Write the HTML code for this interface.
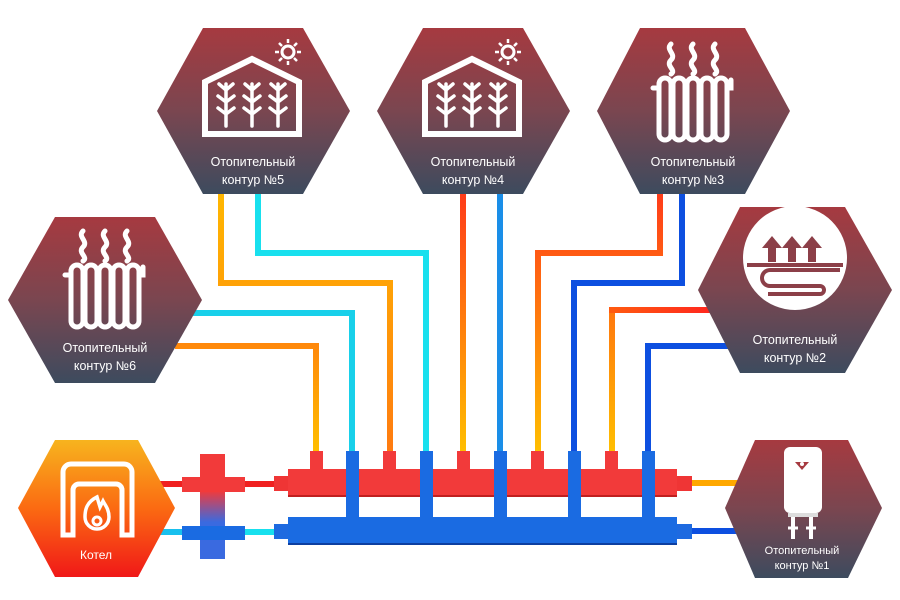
<!DOCTYPE html>
<html><head><meta charset="utf-8"><style>
html,body{margin:0;padding:0;background:#fff;}
svg{display:block;}
text{font-family:"Liberation Sans","DejaVu Sans",sans-serif;fill:#fff;}
</style></head><body>
<svg width="900" height="600" viewBox="0 0 900 600" xmlns="http://www.w3.org/2000/svg">
<defs>
<linearGradient id="hx" x1="0" y1="0" x2="0" y2="1">
<stop offset="0" stop-color="#a63a40"/><stop offset="0.5" stop-color="#7a4650"/><stop offset="1" stop-color="#3d4b5e"/>
</linearGradient>
<linearGradient id="ko" x1="0" y1="0" x2="0" y2="1">
<stop offset="0" stop-color="#f7b41e"/><stop offset="0.5" stop-color="#fb6a12"/><stop offset="1" stop-color="#f01818"/>
</linearGradient>
<linearGradient id="cross" x1="0" y1="0" x2="0" y2="1">
<stop offset="0.35" stop-color="#f23a3a"/><stop offset="0.65" stop-color="#3a6ae0"/>
</linearGradient>
<linearGradient id="vo" gradientUnits="userSpaceOnUse" x1="0" y1="190" x2="0" y2="455">
<stop offset="0" stop-color="#ff3a1a"/><stop offset="1" stop-color="#ffc000"/>
</linearGradient>
<linearGradient id="vo2" gradientUnits="userSpaceOnUse" x1="0" y1="190" x2="0" y2="455">
<stop offset="0" stop-color="#ffb800"/><stop offset="1" stop-color="#ff7a10"/>
</linearGradient>
<linearGradient id="hr" gradientUnits="userSpaceOnUse" x1="612" y1="0" x2="725" y2="0">
<stop offset="0" stop-color="#ff5a10"/><stop offset="1" stop-color="#ff2020"/>
</linearGradient>
<g id="rad" fill="none" stroke="#fff" stroke-width="5" stroke-linecap="round">
<path d="M-22,-52 c-6,6 6,10 0,16 c-6,6 6,10 0,14 M0,-52 c-6,6 6,10 0,16 c-6,6 6,10 0,14 M22,-52 c-6,6 6,10 0,16 c-6,6 6,10 0,14"/>
<path d="M-40,-8 h6 M34,-8 h4 v-8"/>
<path d="M-34,-12 a6,6 0 0 1 12,0 v50 a6,6 0 0 1 -12,0 z M-20,-12 a6,6 0 0 1 12,0 v50 a6,6 0 0 1 -12,0 z M-6,-12 a6,6 0 0 1 12,0 v50 a6,6 0 0 1 -12,0 z M8,-12 a6,6 0 0 1 12,0 v50 a6,6 0 0 1 -12,0 z M22,-12 a6,6 0 0 1 12,0 v50 a6,6 0 0 1 -12,0 z"/>
</g>
<g id="gh" fill="none" stroke="#fff">
<path d="M-47,-14 L0,-37 L47,-14 V38 H-47 Z" stroke-width="6"/>
<g stroke-width="3.5" stroke-linecap="round">
<path d="M-26,30 V-12 M-26,18 l-8,-6 M-26,18 l8,-6 M-26,6 l-8,-6 M-26,6 l8,-6 M-26,-6 l-7,-6 M-26,-6 l7,-6"/>
<path d="M0,30 V-12 M0,18 l-8,-6 M0,18 l8,-6 M0,6 l-8,-6 M0,6 l8,-6 M0,-6 l-7,-6 M0,-6 l7,-6"/>
<path d="M26,30 V-12 M26,18 l-8,-6 M26,18 l8,-6 M26,6 l-8,-6 M26,6 l8,-6 M26,-6 l-7,-6 M26,-6 l7,-6"/>
</g>
<circle cx="36" cy="-44" r="6" stroke-width="3"/>
<path d="M36,-57 v4 M36,-35 v4 M23,-44 h4 M45,-44 h4 M27,-53 l3,3 M42,-38 l3,3 M45,-53 l-3,3 M30,-38 l-3,3" stroke-width="2.5"/>
</g>
</defs>

<!-- thin pipes -->
<g fill="none" stroke-width="6" stroke-linejoin="miter">
<polyline points="316,455 316,346 175,346" stroke="url(#vo)"/>
<polyline points="352,455 352,313 190,313" stroke="#18d0ea"/>
<polyline points="390,455 390,283 221,283 221,190" stroke="url(#vo2)"/>
<polyline points="426,455 426,253 258,253 258,190" stroke="#18e0ee"/>
<polyline points="463,455 463,190" stroke="url(#vo)"/>
<polyline points="500,455 500,190" stroke="#1a8ee8"/>
<polyline points="538,455 538,253 660,253 660,190" stroke="url(#vo)"/>
<polyline points="574,455 574,283 682,283 682,190" stroke="#0d4fe0"/>
<polyline points="612,455 612,310" stroke="url(#vo)"/>
<polyline points="609,310 725,310" stroke="url(#hr)"/>
<polyline points="648,455 648,346 740,346" stroke="#0d4fe0"/>
<line x1="690" y1="483" x2="740" y2="483" stroke="#ffa800"/>
<line x1="690" y1="531" x2="740" y2="531" stroke="#0d4fe0"/>
<line x1="160" y1="484" x2="185" y2="484" stroke="#f02020"/>
<line x1="160" y1="532" x2="185" y2="532" stroke="#18c0ee"/>
<line x1="240" y1="484" x2="280" y2="484" stroke="#f02020"/>
<line x1="240" y1="532" x2="280" y2="532" stroke="#18e0ee"/>
</g>

<!-- manifold -->
<g>
<rect x="274" y="476" width="16" height="15" fill="#ef3535"/>
<rect x="676" y="476" width="16" height="15" fill="#ef3535"/>
<rect x="274" y="524" width="16" height="15" fill="#1e6ae0"/>
<rect x="676" y="524" width="16" height="15" fill="#1e6ae0"/>
<rect x="288" y="469" width="389" height="28" fill="#f23a3a"/>
<rect x="288" y="495" width="389" height="2" fill="#c02020"/>
<rect x="310" y="451" width="13" height="20" fill="#f23a3a"/>
<rect x="383" y="451" width="13" height="20" fill="#f23a3a"/>
<rect x="457" y="451" width="13" height="20" fill="#f23a3a"/>
<rect x="531" y="451" width="13" height="20" fill="#f23a3a"/>
<rect x="605" y="451" width="13" height="20" fill="#f23a3a"/>
<rect x="288" y="517" width="389" height="28" fill="#1a6be2"/>
<rect x="288" y="543" width="389" height="2" fill="#0d3fa0"/>
<rect x="346" y="451" width="13" height="68" fill="#1a6be2"/>
<rect x="420" y="451" width="13" height="68" fill="#1a6be2"/>
<rect x="494" y="451" width="13" height="68" fill="#1a6be2"/>
<rect x="568" y="451" width="13" height="68" fill="#1a6be2"/>
<rect x="642" y="451" width="13" height="68" fill="#1a6be2"/>
<!-- cross -->
<rect x="200" y="454" width="25" height="105" fill="url(#cross)"/>
<rect x="182" y="477" width="63" height="15" fill="#f23a3a"/>
<rect x="182" y="526" width="63" height="14" fill="#1a6be2"/>
</g>

<!-- hexagons -->
<polygon points="203,28 303,28 350,111 303,194 203,194 157,111" fill="url(#hx)"/>
<polygon points="423,28 523,28 570,111 523,194 423,194 377,111" fill="url(#hx)"/>
<polygon points="640,28 745,28 790,111 745,194 640,194 597,111" fill="url(#hx)"/>
<polygon points="55,217 155,217 202,300 155,383 55,383 8,300" fill="url(#hx)"/>
<polygon points="740,207 845,207 892,290 845,373 740,373 698,290" fill="url(#hx)"/>
<polygon points="755,440 848,440 882,508 848,578 755,578 725,508" fill="url(#hx)"/>
<polygon points="55,440 138,440 175,508 138,577 55,577 18,508" fill="url(#ko)"/>

<!-- icons -->
<use href="#gh" transform="translate(252,96)"/>
<use href="#gh" transform="translate(472,96)"/>
<use href="#rad" transform="translate(693,96)"/>
<use href="#rad" transform="translate(105,283)"/>
<!-- underfloor -->
<circle cx="795" cy="258" r="52" fill="#fff"/>
<g fill="#8c3f48">
<path d="M768,262 v-14 h-6 l10,-12 l10,12 h-6 v14 z"/>
<path d="M788,262 v-14 h-6 l10,-12 l10,12 h-6 v14 z"/>
<path d="M808,262 v-14 h-6 l10,-12 l10,12 h-6 v14 z"/>
<rect x="747" y="263" width="96" height="4"/>
<path d="M840,272 H770 a6,6 0 0 0 0,12 H820 a6,6 0 0 1 0,12 H768 v-4 H820 a2,2 0 0 0 0,-4 H770 a10,10 0 0 1 0,-20 H840 z"/>
</g>
<!-- boiler icon -->
<g>
<rect x="784" y="447" width="38" height="66" rx="6" fill="#fff"/>
<path d="M795,462 h14 l-7,8 z" fill="#a63a40"/>
<circle cx="802" cy="464" r="2" fill="#fff"/>
<rect x="788" y="513" width="30" height="4" fill="#ddd"/>
<path d="M793,517 v22 M811,517 v22" stroke="#fff" stroke-width="4"/>
<path d="M788,528 h10 M806,528 h10" stroke="#fff" stroke-width="3"/>
</g>
<!-- kotel icon -->
<g fill="none" stroke="#fff" stroke-width="5">
<path d="M63,535 V472 a8,8 0 0 1 8,-8 H124 a8,8 0 0 1 8,8 V535 h-10 V490 a6,6 0 0 0 -6,-6 H79 a6,6 0 0 0 -6,6 V535 z"/>
<path d="M97,497 c-10,5 -12,12 -12,20 a12,12 0 0 0 24,0 c0,-8 -4,-12 -6,-16 l-3,6 z" stroke-width="3.5"/>
<circle cx="97" cy="521" r="4" stroke-width="3"/>
</g>

<!-- labels -->
<g font-size="12.5" text-anchor="middle">
<text x="253" y="166">Отопительный</text><text x="253" y="184">контур  №5</text>
<text x="473" y="166">Отопительный</text><text x="473" y="184">контур  №4</text>
<text x="693" y="166">Отопительный</text><text x="693" y="184">контур  №3</text>
<text x="105" y="352">Отопительный</text><text x="105" y="370">контур  №6</text>
<text x="795" y="344">Отопительный</text><text x="795" y="362">контур  №2</text>
<text x="802" y="554" font-size="11">Отопительный</text><text x="802" y="569" font-size="11">контур  №1</text>
<text x="96" y="559" font-size="12">Котел</text>
</g>
</svg>
</body></html>
